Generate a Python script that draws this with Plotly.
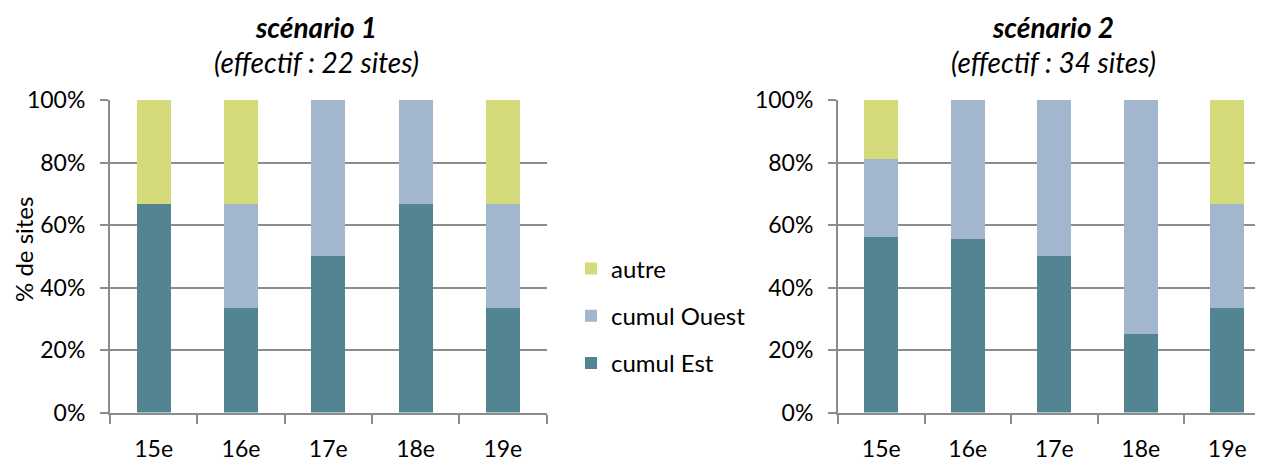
import plotly.graph_objects as go

categories = ["15e", "16e", "17e", "18e", "19e"]
series_names = ["cumul Est", "cumul Ouest", "autre"]
legend_ranks = [3, 2, 1]
colors = ["#528591", "#A2B7CD", "#D5DA7A"]

# scenario 1 (22 sites)
s1_est = [0.667, 0.333, 0.50, 0.667, 0.333]
s1_ouest = [0.0, 0.333, 0.50, 0.333, 0.333]
s1_autre = [0.333, 0.333, 0.0, 0.0, 0.333]

# scenario 2 (34 sites)
s2_est = [0.5625, 0.556, 0.50, 0.25, 0.333]
s2_ouest = [0.25, 0.444, 0.50, 0.75, 0.333]
s2_autre = [0.1875, 0.0, 0.0, 0.0, 0.333]

titles = ["<b><i>scénario 1</i></b>", "<b><i>scénario 2</i></b>"]
subtitles = ["<i>(effectif : 22 sites)</i>", "<i>(effectif : 34 sites)</i>"]
y_title = "% de sites"
y_ticks = [0, 0.2, 0.4, 0.6, 0.8, 1.0]

FONT = "Lato"
W, H = 1263, 460
GRID = "#8C8C8C"
OFF = 8  # page body margin

def fx(px):
    return (px - OFF) / W

def fy(py):
    return 1 - (py - OFF) / H

fig = go.Figure()
data = [(s1_est, s1_ouest, s1_autre), (s2_est, s2_ouest, s2_autre)]
for k, series in enumerate(data):
    xa = "x" if k == 0 else "x2"
    ya = "y" if k == 0 else "y2"
    for name, vals, col, rk in zip(series_names, series, colors, legend_ranks):
        fig.add_trace(go.Bar(
            x=categories, y=vals, name=name, marker_color=col,
            marker_line_width=0, width=0.39, xaxis=xa, yaxis=ya,
            showlegend=(k == 0), legendgroup=name, legendrank=rk,
        ))

dom1 = [fx(110), fx(546.5)]
dom2 = [fx(838), 1.0]
span2 = (W + OFF - 838) / 86.5

xaxis_common = dict(
    type="category", tickson="boundaries", ticks="outside", ticklen=9,
    tickwidth=2, tickcolor=GRID, showline=True, linecolor=GRID, linewidth=2,
    showgrid=False, tickfont=dict(family=FONT, size=23, color="#000"),
    automargin=False, ticklabelstandoff=15,
)
yaxis_common = dict(
    range=[0, 1], tickvals=y_ticks, tickformat=".0%", ticks="outside",
    ticklen=8, tickwidth=2, tickcolor=GRID, showline=True, linecolor=GRID,
    linewidth=2, showgrid=True, gridcolor=GRID, gridwidth=2,
    tickfont=dict(family=FONT, size=23, color="#000"),
    domain=[fy(412.5), fy(100)],
    zeroline=False, automargin=False, ticklabelstandoff=10,
)

fig.update_layout(
    width=W, height=H,
    margin=dict(l=0, r=0, t=0, b=0, pad=0, autoexpand=False),
    paper_bgcolor="white", plot_bgcolor="white",
    barmode="stack",
    font=dict(family=FONT, size=22, color="#000"),
    xaxis=dict(**xaxis_common, domain=dom1, anchor="y", range=[-0.5, 4.5]),
    yaxis=dict(**yaxis_common, anchor="x"),
    xaxis2=dict(**xaxis_common, domain=dom2, anchor="y2",
                range=[-0.5, -0.5 + span2]),
    yaxis2=dict(**yaxis_common, anchor="x2"),
    legend=dict(
        x=563 / W, y=1 - 308 / H, xanchor="left", yanchor="middle",
        traceorder="grouped", tracegroupgap=13,
        font=dict(family=FONT, size=24, color="#000"),
        bgcolor="rgba(0,0,0,0)", itemwidth=30,
    ),
)

centers = [316, 1053]
anns = []
for c, t, s in zip(centers, titles, subtitles):
    anns.append(dict(x=fx(c), y=fy(27), xref="paper", yref="paper",
                     text=t, showarrow=False, xanchor="center", yanchor="middle",
                     font=dict(family=FONT, size=28, color="#000")))
    anns.append(dict(x=fx(c), y=fy(62), xref="paper", yref="paper",
                     text=s, showarrow=False, xanchor="center", yanchor="middle",
                     font=dict(family=FONT, size=28, color="#000")))
anns.append(dict(x=fx(24), y=fy(250), xref="paper", yref="paper",
                 text=y_title, showarrow=False, textangle=-90,
                 xanchor="center", yanchor="middle",
                 font=dict(family=FONT, size=24, color="#000")))
fig.update_layout(annotations=anns)

fig.write_html("out.html")
